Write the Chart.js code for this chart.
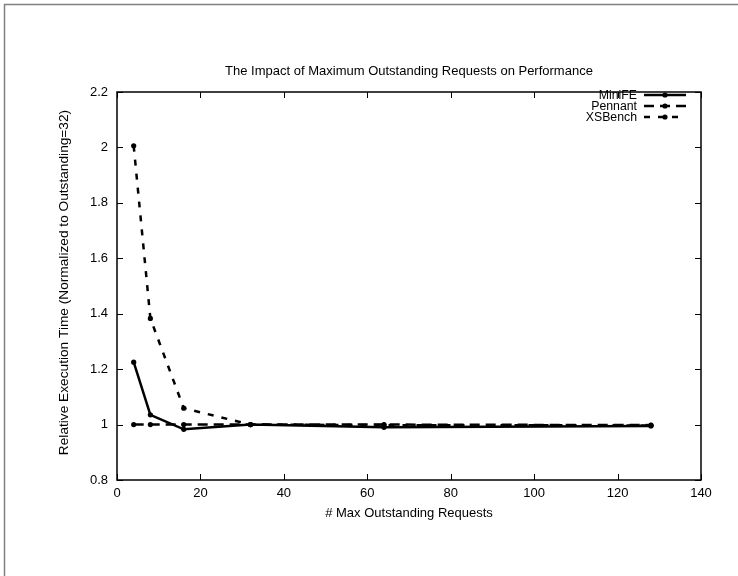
<!DOCTYPE html>
<html>
<head>
<meta charset="utf-8">
<title>Outstanding Requests</title>
<script src="https://cdn.jsdelivr.net/npm/chart.js@4"></script>
<style>
  html, body { margin: 0; padding: 0; background: #fff; }
  canvas { display: block; }
</style>
</head>
<body>
<canvas id="chart" width="738" height="576"></canvas>
<script>
// values
const outstanding = [4, 8, 16, 32, 64, 128];
const miniFE = [1.225, 1.035, 0.983, 1.0, 0.99, 0.995];
const pennant = [1.0, 1.0, 1.0, 1.0, 1.0, 0.998];
const xsBench = [2.006, 1.383, 1.059, 1.0, 0.998, 0.997];
const seriesNames = ['MiniFE', 'Pennant', 'XSBench'];
const chartTitle = 'The Impact of Maximum Outstanding Requests on Performance';
const yTitle = 'Relative Execution Time (Normalized to Outstanding=32)';

const FONT = "'Liberation Sans', Arial, Helvetica, sans-serif";

const toPoints = (vals) => outstanding.map((x, i) => ({ x: x, y: vals[i] }));

const style = (dash, width) => ({
  borderColor: '#000',
  backgroundColor: '#000',
  borderWidth: width,
  borderDash: dash,
  pointRadius: 2.6,
  pointHoverRadius: 2.6,
  pointBackgroundColor: '#000',
  pointBorderWidth: 0,
  tension: 0,
  fill: false,
});

// box, inward ticks on all four sides, outer grey frame, titles, key
const framePlugin = {
  id: 'frame',
  beforeDraw(chart) {
    const ctx = chart.ctx;
    ctx.save();
    ctx.fillStyle = '#fff';
    ctx.fillRect(0, 0, chart.width, chart.height);
    ctx.strokeStyle = '#808080';
    ctx.lineWidth = 1.5;
    ctx.beginPath();
    ctx.moveTo(4.5, chart.height);
    ctx.lineTo(4.5, 4.5);
    ctx.lineTo(chart.width, 4.5);
    ctx.stroke();
    ctx.restore();
  },
  beforeDatasetsDraw(chart) {
    const { ctx, chartArea: a, scales } = chart;
    const tick = 6;
    ctx.save();
    ctx.strokeStyle = '#000';
    ctx.lineWidth = 1;
    ctx.beginPath();
    scales.x.ticks.forEach((t) => {
      const px = Math.round(scales.x.getPixelForValue(t.value)) + 0.5;
      ctx.moveTo(px, a.bottom); ctx.lineTo(px, a.bottom - tick);
      ctx.moveTo(px, a.top); ctx.lineTo(px, a.top + tick);
    });
    scales.y.ticks.forEach((t) => {
      const py = Math.round(scales.y.getPixelForValue(t.value)) + 0.5;
      ctx.moveTo(a.left, py); ctx.lineTo(a.left + tick, py);
      ctx.moveTo(a.right, py); ctx.lineTo(a.right - tick, py);
    });
    ctx.stroke();
    ctx.lineWidth = 1.5;
    ctx.strokeRect(a.left, a.top, a.right - a.left, a.bottom - a.top);

    ctx.fillStyle = '#000';
    ctx.textAlign = 'center';
    ctx.textBaseline = 'middle';
    ctx.font = '13px ' + FONT;
    ctx.fillText(chartTitle, (a.left + a.right) / 2, 71);

    ctx.translate(64, 282.5);
    ctx.rotate(-Math.PI / 2);
    ctx.font = '13.7px ' + FONT;
    ctx.fillText(yTitle, 0, 0);
    ctx.restore();
  },
  afterDraw(chart) {
    // gnuplot style key: label, then line sample with a point
    const ctx = chart.ctx;
    const textRight = 637, x0 = 644, x1 = 686, top = 95, step = 11;
    ctx.save();
    ctx.font = '12.3px ' + FONT;
    ctx.textAlign = 'right';
    ctx.textBaseline = 'middle';
    chart.data.datasets.forEach((ds, i) => {
      const y = top + i * step;
      ctx.fillStyle = '#000';
      ctx.fillText(ds.label, textRight, y + 0.5);
      ctx.strokeStyle = ds.borderColor;
      ctx.lineWidth = ds.borderWidth;
      ctx.setLineDash(ds.borderDash);
      ctx.beginPath();
      ctx.moveTo(x0, y);
      ctx.lineTo(x1, y);
      ctx.stroke();
      ctx.setLineDash([]);
      ctx.beginPath();
      ctx.arc((x0 + x1) / 2, y, ds.pointRadius, 0, Math.PI * 2);
      ctx.fill();
    });
    ctx.restore();
  },
};

new Chart(document.getElementById('chart'), {
  type: 'line',
  data: {
    datasets: [
      { label: seriesNames[0], data: toPoints(miniFE), ...style([], 2.5) },
      { label: seriesNames[1], data: toPoints(pennant), ...style([10, 6], 2.5) },
      { label: seriesNames[2], data: toPoints(xsBench), ...style([6, 8], 2.5) },
    ],
  },
  options: {
    responsive: false,
    animation: false,
    devicePixelRatio: 1,
    layout: { padding: { top: 92, right: 37, bottom: 0, left: 0 } },
    plugins: {
      legend: { display: false },
      tooltip: { enabled: false },
      title: { display: false },
    },
    scales: {
      x: {
        type: 'linear',
        min: 0,
        max: 140,
        afterFit: (s) => { s.height = 96; },
        ticks: {
          stepSize: 20,
          color: '#000',
          padding: 6,
          font: { family: FONT, size: 13 },
        },
        grid: { display: false, drawTicks: false },
        border: { display: false },
        title: {
          display: true,
          text: '# Max Outstanding Requests',
          color: '#000',
          font: { family: FONT, size: 13 },
          padding: { top: 0, bottom: 55 },
        },
      },
      y: {
        type: 'linear',
        min: 0.8,
        max: 2.2,
        afterFit: (s) => { s.width = 117; },
        ticks: {
          stepSize: 0.2,
          color: '#000',
          padding: 9,
          font: { family: FONT, size: 13 },
          callback: (v) => String(Math.round(v * 10) / 10),
        },
        grid: { display: false, drawTicks: false },
        border: { display: false },
        title: { display: false },
      },
    },
  },
  plugins: [framePlugin],
});
</script>
</body>
</html>
